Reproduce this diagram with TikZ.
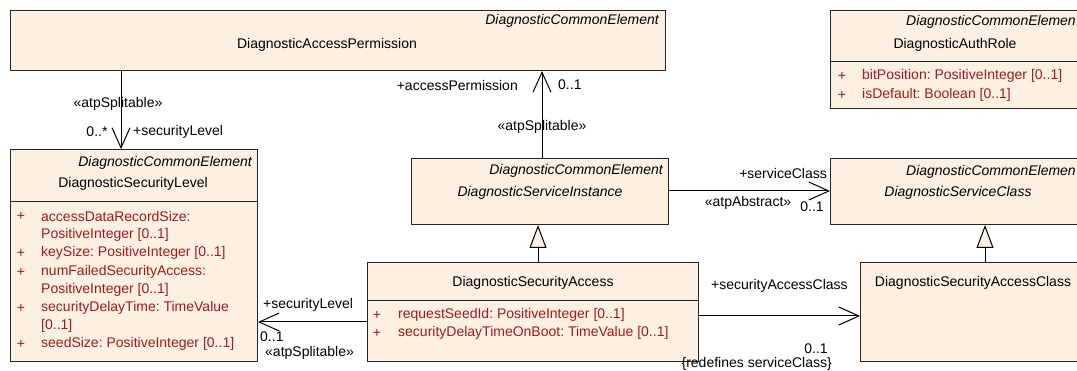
\documentclass[tikz,border=0pt]{standalone}
\usepackage{fontspec}
\setmainfont{Liberation Sans}
\usetikzlibrary{arrows.meta}
\definecolor{boxfill}{RGB}{251,240,226}
\definecolor{attrred}{RGB}{160,28,28}
\newcommand\umlfont{\fontsize{14}{16}\selectfont\frenchspacing}
\tikzset{
  umlbox/.style={draw=black!85, line width=1pt, fill=boxfill, anchor=north west, inner sep=0pt},
  txt/.style={font=\umlfont, inner sep=0pt, text=black},
  stereo/.style={font=\umlfont\itshape, inner sep=0pt, anchor=east},
  attr/.style={font=\umlfont, inner sep=0pt, anchor=west, text=attrred},
  plus/.style={font=\umlfont, inner sep=0pt, text=attrred},
  assoc/.style={draw=black, line width=1pt, -{Straight Barb[length=20pt,width=18pt,line width=1pt]}},
  gen/.style={draw=black, line width=1pt, -{Triangle[length=23pt,width=17pt,fill=boxfill,line width=1pt]}},
  divider/.style={draw=black!85, line width=1pt}
}
\begin{document}
\begin{tikzpicture}[x=1pt,y=-1pt]
\useasboundingbox (0,0) rectangle (1077,371);
\clip (0,0) rectangle (1077,371);
% boxes
\node[umlbox, minimum width=655pt, minimum height=60pt] (dap) at (10,10) {};
\node[umlbox, minimum width=262pt, minimum height=98pt] (dar) at (830,10) {};
\node[umlbox, minimum width=247pt, minimum height=212pt] (dsl) at (10,149) {};
\node[umlbox, minimum width=257pt, minimum height=66pt] (dsi) at (411,158) {};
\node[umlbox, minimum width=262pt, minimum height=66pt] (dsc) at (830,158) {};
\node[umlbox, minimum width=331pt, minimum height=99pt] (dsa) at (367,262) {};
\node[umlbox, minimum width=232pt, minimum height=99pt] (dsac) at (860,262) {};
% dividers
\draw[divider] (dar.west |- 0,62) -- (dar.east |- 0,62);
\draw[divider] (dsl.west |- 0,202) -- (dsl.east |- 0,202);
\draw[divider] (dsa.west |- 0,301) -- (dsa.east |- 0,301);
% DiagnosticAccessPermission
\node[stereo] (dapst) at (659,21) {DiagnosticCommonElement};
\node[txt] (dapn) at (327,45) {DiagnosticAccessPermission};
% DiagnosticAuthRole
\node[stereo] (darst) at (1076,22) {DiagnosticCommonElemen};
\node[txt] (darn) at (955,45) {DiagnosticAuthRole};
\node[plus] (darp1) at (842,76) {+};
\node[attr] (dara1) at (862,76) {bitPosition: PositiveInteger [0..1]};
\node[plus] (darp2) at (842,95) {+};
\node[attr] (dara2) at (862,95) {isDefault: Boolean [0..1]};
% DiagnosticSecurityLevel
\node[stereo] (dslst) at (252,163) {DiagnosticCommonElement};
\node[txt] (dsln) at (133,184) {DiagnosticSecurityLevel};
\node[plus] (dslp1) at (21,216) {+};
\node[attr] (dsla1) at (41,216) {accessDataRecordSize:};
\node[attr] (dsla1b) at (41,235) {PositiveInteger [0..1]};
\node[plus] (dslp2) at (21,253) {+};
\node[attr] (dsla2) at (41,253) {keySize: PositiveInteger [0..1]};
\node[plus] (dslp3) at (21,272) {+};
\node[attr] (dsla3) at (41,272) {numFailedSecurityAccess:};
\node[attr] (dsla3b) at (41,290) {PositiveInteger [0..1]};
\node[plus] (dslp4) at (21,308) {+};
\node[attr] (dsla4) at (41,308) {securityDelayTime: TimeValue};
\node[attr] (dsla4b) at (41,326) {[0..1]};
\node[plus] (dslp5) at (21,344) {+};
\node[attr] (dsla5) at (41,344) {seedSize: PositiveInteger [0..1]};
% DiagnosticServiceInstance
\node[stereo] (dsist) at (663,171) {DiagnosticCommonElement};
\node[txt, font=\umlfont\itshape] (dsin) at (540,193) {DiagnosticServiceInstance};
% DiagnosticServiceClass
\node[stereo] (dscst) at (1076,172) {DiagnosticCommonElemen};
\node[txt, font=\umlfont\itshape] (dscn) at (958,193) {DiagnosticServiceClass};
% DiagnosticSecurityAccess
\node[txt] (dsan) at (533,283) {DiagnosticSecurityAccess};
\node[plus] (dsap1) at (377,315) {+};
\node[attr] (dsaa1) at (398,315) {requestSeedId: PositiveInteger [0..1]};
\node[plus] (dsap2) at (377,333) {+};
\node[attr] (dsaa2) at (398,333) {securityDelayTimeOnBoot: TimeValue [0..1]};
% DiagnosticSecurityAccessClass
\node[txt] (dsacn) at (973,283) {DiagnosticSecurityAccessClass};
% connectors
\draw[assoc] (121,0 |- dap.south) -- (121,0 |- dsl.north);
\node[txt] (l1a) at (118,104) {«atpSplitable»};
\node[txt] (l1b) at (97,132) {0..*};
\node[txt, anchor=west] (l1c) at (133,132) {+securityLevel};

\draw[assoc] (542,0 |- dsi.north) -- (542,0 |- dap.south);
\node[txt, anchor=east] (l2a) at (518,85) {+accessPermission};
\node[txt, anchor=west] (l2b) at (558,85) {0..1};
\node[txt] (l2c) at (542,127) {«atpSplitable»};

\draw[assoc] (dsi.east |- 0,191) -- (dsc.west |- 0,191);
\node[txt, anchor=east] (l3a) at (827,173) {+serviceClass};
\node[txt] (l3b) at (748,203) {«atpAbstract»};
\node[txt] (l3c) at (812,207) {0..1};

\draw[gen] (538,0 |- dsa.north) -- (538,0 |- dsi.south);
\draw[gen] (985,0 |- dsac.north) -- (985,0 |- dsc.south);

\draw[assoc] (dsa.west |- 0,322) -- (dsl.east |- 0,322);
\node[txt, anchor=west] (l4a) at (263,305) {+securityLevel};
\node[txt, anchor=west] (l4b) at (260,337) {0..1};
\node[txt, anchor=west] (l4c) at (265,353) {«atpSplitable»};

\draw[assoc] (dsa.east |- 0,316) -- (dsac.west |- 0,316);
\node[txt, anchor=west] (l5a) at (711,286) {+securityAccessClass};
\node[txt] (l5b) at (816,349) {0..1};
\node[txt, anchor=east] (l5c) at (832,364) {\{redefines serviceClass\}};
\end{tikzpicture}
\end{document}
